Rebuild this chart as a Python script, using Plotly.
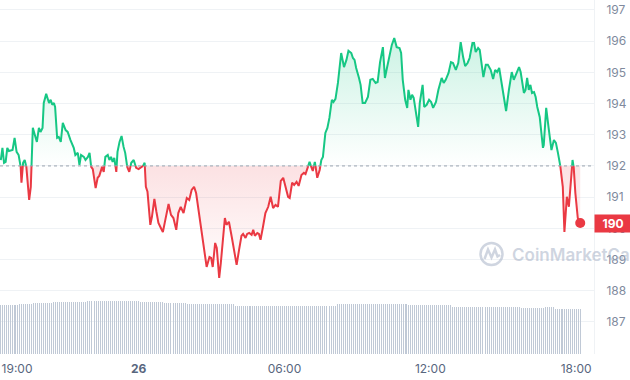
import numpy as np
import pandas as pd
import plotly.graph_objects as go

# ---------------- data ----------------
start_time = "2024-03-25 18:20"
minutes = [0, 4, 8, 12, 16, 20, 29, 34, 39, 44, 49, 51, 55, 59, 63, 70, 74, 79, 84, 89, 94, 98, 103, 106, 112, 119, 123, 127, 131, 134,
           139, 143, 148, 153, 160, 165, 172, 180, 184, 190, 194, 198, 205, 209, 215, 219, 223, 227, 234, 239, 243, 250, 254, 258, 264,
           268, 272, 276, 280, 285, 288, 293, 298, 303, 307, 312, 317, 322, 328, 334, 340, 346, 351, 355, 358, 362, 365, 369, 373, 379,
           384, 389, 395, 400, 406, 414, 420, 426, 433, 438, 444, 451, 459, 465, 471, 477, 482, 488, 496, 502, 508, 515, 519, 523, 529,
           533, 539, 543, 549, 553, 557, 563, 570, 576, 582, 588, 594, 598, 604, 608, 613, 619, 623, 627, 633, 637, 641, 647, 653, 660,
           666, 672, 678, 684, 691, 697, 703, 709, 713, 719, 724, 730, 735, 742, 748, 752, 758, 762, 766, 770, 775, 781, 787, 791, 795,
           801, 806, 811, 817, 821, 826, 832, 840, 843, 847, 853, 858, 865, 869, 873, 877, 884, 888, 893, 899, 906, 912, 918, 925, 930,
           936, 943, 948, 953, 959, 965, 971, 977, 984, 988, 992, 998, 1003, 1006, 1011, 1015, 1019, 1026, 1030, 1034, 1041, 1045, 1051,
           1057, 1062, 1067, 1074, 1080, 1088, 1093, 1098, 1105, 1111, 1116, 1123, 1129, 1135, 1141, 1146, 1152, 1157, 1164, 1168, 1172,
           1178, 1182, 1187, 1191, 1197, 1202, 1209, 1215, 1220, 1225, 1230, 1234, 1239, 1244, 1247, 1254, 1261, 1266, 1272, 1279, 1283,
           1287, 1291, 1295, 1299, 1303, 1307, 1311, 1316, 1320, 1324, 1330, 1334, 1338, 1340, 1346, 1352, 1359, 1365, 1370, 1375, 1380,
           1383, 1387, 1391, 1397, 1402, 1406, 1411, 1414, 1418, 1424, 1430]
prices = [192.19, 192.58, 192.10, 192.13, 192.58, 192.48, 192.51, 192.90, 192.45, 192.35, 191.97, 191.46, 192.10, 192.19, 191.97,
          190.91, 191.33, 193.22, 192.99, 192.77, 193.22, 193.09, 193.22, 194.02, 194.31, 194.02, 194.12, 193.96, 194.02, 193.89,
          192.90, 192.93, 192.77, 193.38, 193.15, 193.09, 192.83, 192.58, 192.35, 192.42, 192.03, 192.35, 192.29, 192.19, 192.29,
          192.42, 191.97, 191.90, 191.29, 191.62, 191.68, 191.97, 191.81, 192.29, 192.35, 192.19, 192.29, 192.13, 192.26, 191.81,
          192.45, 192.77, 192.96, 192.61, 192.42, 191.97, 191.81, 192.10, 192.19, 191.94, 191.90, 191.94, 192.00, 192.10, 191.33,
          191.17, 190.81, 190.11, 190.37, 190.94, 190.53, 190.17, 190.01, 189.88, 190.27, 190.78, 190.43, 190.33, 189.95, 190.49,
          190.69, 190.49, 190.97, 190.91, 191.23, 191.33, 191.13, 190.59, 189.95, 189.40, 188.76, 189.08, 189.05, 188.76, 189.53,
          189.37, 188.41, 188.89, 189.72, 190.33, 190.11, 190.21, 189.72, 189.21, 188.83, 189.31, 189.76, 189.82, 189.69, 189.82,
          189.85, 189.79, 189.95, 189.76, 189.85, 189.82, 189.63, 190.04, 190.49, 190.69, 191.01, 190.65, 190.75, 190.69, 191.52,
          191.62, 191.33, 191.01, 190.97, 191.46, 191.39, 191.49, 191.36, 191.71, 191.78, 191.74, 191.97, 192.13, 191.97, 191.84,
          192.13, 191.62, 191.87, 192.19, 192.29, 193.06, 193.22, 193.54, 194.12, 194.05, 194.15, 194.66, 195.62, 195.40, 195.17,
          195.40, 195.69, 195.62, 195.46, 195.40, 195.14, 194.82, 194.60, 194.02, 194.02, 194.21, 194.76, 194.79, 194.66, 194.69,
          195.33, 195.81, 194.82, 195.14, 195.49, 195.88, 196.10, 195.81, 195.78, 195.62, 194.76, 194.12, 193.86, 194.44, 194.12,
          194.28, 194.18, 193.57, 193.25, 194.02, 194.60, 193.89, 193.96, 194.12, 194.05, 193.86, 194.05, 194.44, 194.82, 194.66,
          194.76, 194.98, 195.33, 195.30, 195.08, 195.30, 195.97, 195.49, 195.20, 195.30, 195.46, 195.94, 195.94, 195.65, 195.78,
          195.72, 195.30, 194.85, 195.24, 195.24, 195.08, 194.79, 195.08, 195.01, 195.14, 194.82, 194.34, 193.96, 193.76, 194.44,
          195.01, 194.76, 194.98, 195.17, 195.01, 194.69, 194.34, 194.44, 194.82, 194.44, 194.60, 194.34, 194.37, 194.21, 193.89,
          193.57, 193.06, 192.58, 192.67, 193.86, 193.22, 192.51, 192.83, 192.74, 192.42, 192.10, 191.71, 191.33, 189.88, 191.01,
          190.69, 191.23, 192.19, 191.94, 191.13, 190.33, 190.17]
baseline = 192.0

# volume (24h volume, arbitrary units) as levels held over runs of 5-minute bars
vol_levels = [49, 50, 51, 52, 53, 52, 51, 50, 49.7, 48.3, 49.7, 49, 47.3, 46.3, 47, 45]
vol_runs = [9, 7, 10, 17, 26, 12, 11, 11, 13, 50, 35, 22, 34, 12, 5, 13]

y_ticks = [187, 188, 189, 190, 191, 192, 193, 194, 195, 196, 197]
x_tick_times = ["2024-03-25 19:00", "2024-03-26 00:00", "2024-03-26 06:00", "2024-03-26 12:00", "2024-03-26 18:00"]
x_tick_text = ["19:00", "<b>26</b>", "06:00", "12:00", "18:00"]

GREEN = "#16c784"
RED = "#ea3943"

# ---------------- processing ----------------
t0 = pd.Timestamp(start_time)
t = np.array(minutes, float)
p = np.array(prices, float)
tt, pp = [t[0]], [p[0]]
for i in range(1, len(p)):
    a, b = p[i - 1] - baseline, p[i] - baseline
    if a * b < 0:
        f = a / (a - b)
        tt.append(t[i - 1] + f * (t[i] - t[i - 1]))
        pp.append(baseline)
    tt.append(t[i])
    pp.append(p[i])
tt = np.array(tt)
pp = np.array(pp)
xs = t0 + pd.to_timedelta(tt, unit="m")

up_line = np.where(pp >= baseline, pp, np.nan)
dn_line = np.where(pp <= baseline, pp, np.nan)
up_fill = np.maximum(pp, baseline)
dn_fill = np.minimum(pp, baseline)
base = np.full_like(pp, baseline)

vols = np.repeat(vol_levels, vol_runs)
vol_x = t0 + pd.to_timedelta(np.arange(len(vols)) * 5, unit="m")

fig = go.Figure()
fig.add_trace(go.Bar(x=vol_x, y=vols, yaxis="y2", marker=dict(color="rgba(190,199,213,0.97)", line=dict(width=0)),
                     width=150000, hoverinfo="skip"))

fig.add_trace(go.Scatter(x=xs, y=base, mode="lines", line=dict(width=0), hoverinfo="skip"))
fig.add_trace(go.Scatter(x=xs, y=up_fill, mode="lines", line=dict(width=0), fill="tonexty",
                         fillgradient=dict(type="vertical", start=baseline, stop=float(p.max()),
                                           colorscale=[[0, "rgba(22,199,132,0.0)"], [1, "rgba(22,199,132,0.22)"]]),
                         hoverinfo="skip"))
fig.add_trace(go.Scatter(x=xs, y=base, mode="lines", line=dict(width=0), hoverinfo="skip"))
fig.add_trace(go.Scatter(x=xs, y=dn_fill, mode="lines", line=dict(width=0), fill="tonexty",
                         fillgradient=dict(type="vertical", start=float(p.min()), stop=baseline,
                                           colorscale=[[0, "rgba(234,57,67,0.0)"], [1, "rgba(234,57,67,0.15)"]]),
                         hoverinfo="skip"))
fig.add_trace(go.Scatter(x=xs, y=up_line, mode="lines", line=dict(color=GREEN, width=2), connectgaps=False))
fig.add_trace(go.Scatter(x=xs, y=dn_line, mode="lines", line=dict(color=RED, width=2), connectgaps=False))
fig.add_trace(go.Scatter(x=[xs[-1]], y=[pp[-1]], mode="markers", marker=dict(color=RED, size=10)))

W, H = 594.0, 354.0  # plot area in px


def px(x, y):
    return x / W, (H - y) / H


fig.add_shape(type="line", xref="paper", yref="y", x0=0, x1=1, y0=baseline, y1=baseline,
              line=dict(color="#9aa3b0", width=1, dash="dot"))

# watermark logo
cx0, cy0 = px(480.5, 265)
cx1, cy1 = px(502.5, 243)
fig.add_shape(type="circle", xref="paper", yref="paper", x0=cx0, y0=cy0, x1=cx1, y1=cy1,
              line=dict(color="rgba(160,172,194,0.5)", width=2.5))
pts = [(484.5, 259), (488, 249.5), (491.5, 257.5), (495, 249.5), (497.5, 256.5), (500, 255)]
path = "M " + " L ".join("%.5f,%.5f" % px(a, b) for a, b in pts)
fig.add_shape(type="path", xref="paper", yref="paper", path=path,
              line=dict(color="rgba(160,172,194,0.5)", width=2.5))
fig.add_annotation(xref="paper", yref="paper", x=px(510, 0)[0], y=px(0, 255)[1], xanchor="left", yanchor="middle",
                   text="CoinMarketCap", showarrow=False,
                   font=dict(family="Inter", size=17, color="rgba(160,172,194,0.5)", weight=600))

# last price label
fig.add_annotation(xref="paper", yref="y", x=1, y=float(pp[-1]), xanchor="left", yanchor="middle",
                   text="<b>%d</b>" % round(pp[-1]), showarrow=False, bgcolor=RED, width=36, height=17,
                   borderpad=0, font=dict(family="Inter", size=12, color="white"))

fig.update_layout(
    width=630, height=380, margin=dict(l=0, r=36, t=0, b=26),
    plot_bgcolor="white", paper_bgcolor="white", showlegend=False, bargap=0,
    font=dict(family="Inter", size=12, color="#808a9d"),
    xaxis=dict(type="date",
               range=[t0 - pd.Timedelta(minutes=2), t0 + pd.Timedelta(minutes=1464)],
               showgrid=False, zeroline=False, showline=False, ticks="",
               tickvals=pd.to_datetime(x_tick_times), ticktext=x_tick_text,
               tickfont=dict(family="Inter", size=12, color="#58667e"), ticklabelstandoff=6),
    yaxis=dict(side="right", range=[185.97, 197.32], tickvals=y_ticks, showgrid=True, gridcolor="#eff2f5",
               zeroline=False, showline=True, linecolor="#eff2f5", linewidth=1, ticks="",
               tickfont=dict(family="Inter", size=12, color="#808a9d"), ticklabelstandoff=9),
    yaxis2=dict(overlaying="y", range=[0, 354], visible=False),
)

fig.write_html("out.html")
